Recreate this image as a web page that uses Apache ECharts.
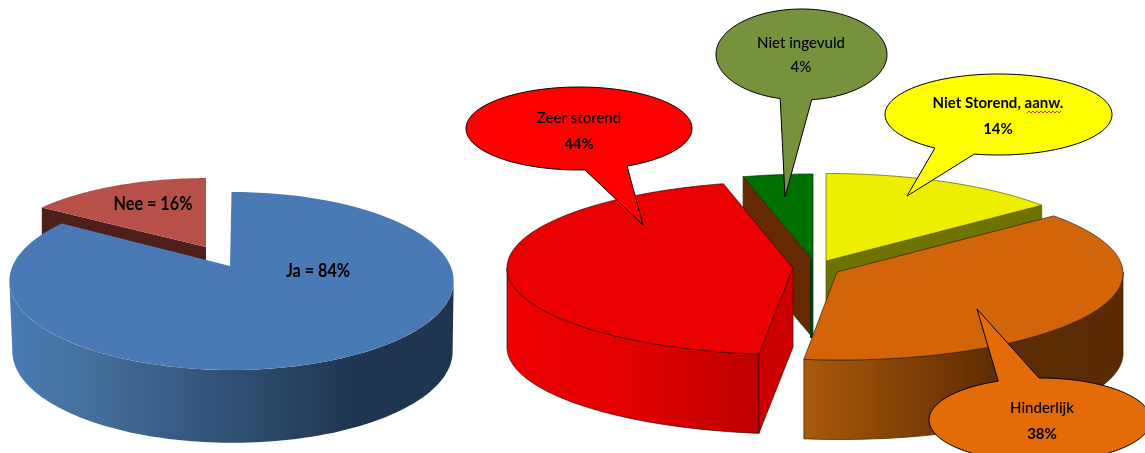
<!DOCTYPE html>
<html><head><meta charset="utf-8">
<style>html,body{margin:0;padding:0;background:#fff}#c{width:1145px;height:453px}</style>
<script src="https://cdn.jsdelivr.net/npm/echarts@6/dist/echarts.min.js"></script>
</head><body><div id="c"></div>
<script>
// ---- data ----
var answerCategories = ['Ja', 'Nee'];
var answerValues = [84, 16];
var answerLabels = ['Ja = 84%', 'Nee = 16%'];
var ratingCategories = ['Niet Storend, aanw.', 'Hinderlijk', 'Zeer storend', 'Niet ingevuld'];
var ratingValues = [14, 38, 44, 4];
var ratingLabels = ['14%', '38%', '44%', '4%'];

// ---- layout and style ----
function grad(stops){
  return new echarts.graphic.LinearGradient(0,0,1,0,stops.map(function(s){return {offset:s[0],color:s[1]};}));
}
var leftStyle = [
  {pie:0,idx:1,order:1,ax:206,ay:247,a:212,b:80.5,k:0.168,depth:60,top:'#b8504a',cut:'#4e1f1b',cutAt:'start',stroke:null,wall:'#4e1f1b'},
  {pie:0,idx:0,order:2,ax:231.5,tip:230,ay:266,a:219,b:86.5,k:0.168,depth:70,top:'#4a7ab5',stroke:null,
    bottom:{ax:232.5,ay:336,a:217,b:88.9},
    wall:[[0,'#4a7ab5'],[0.15,'#46729f'],[0.78,'#1f3550'],[1,'#1f3550']]}
];
var rightStyle = [
  {pie:1,idx:3,order:3,ax:813,ay:260,a:281,b:86,k:0,depth:78,top:'#007000',cut:'#652a02',cutAt:'start',stroke:'#0b2a08',wall:'#652a02',sliver:'#0b3a0b'},
  {pie:1,idx:0,order:4,ax:826,ay:261,a:280,b:87.5,k:0,depth:80,top:'#eeee00',cut:'#6e7300',cutAt:'end',stroke:'#5a5a00',wall:'#6e7300'},
  {pie:1,idx:2,order:5,ax:795,tip:793,ay:268,a:288,b:87,k:0,depth:79,top:'#ea0000',cut:'#cc0000',cutAt:'start',stroke:'#3a0000',
    wall:[[0,'#ee0000'],[0.55,'#e00000'],[1,'#bc0000']]},
  {pie:1,idx:1,order:6,ax:835,tip:837,sk:-5,ay:272,a:288,b:88,k:0,depth:79.5,top:'#d2640a',stroke:'#3a1c00',
    wall:[[0,'#a95a0c'],[0.45,'#723604'],[0.62,'#5c2c02'],[1,'#5a2a02']]}
];
var allStyle = leftStyle.concat(rightStyle);
var pieValues = [answerValues, ratingValues];

var callouts = [
  {idx:2,cx:579,cy:128.5,rx:113,ry:41.5,fill:'#ff0000',tail:[[585,170],[643,225],[627,166]],tx:579,y1:118,y2:144,weight:500,w2:700},
  {idx:3,cx:801.5,cy:54.5,rx:85.5,ry:45.5,fill:'#76923c',tail:[[780,99],[785,197],[812,101]],tx:801,y1:43,y2:67,weight:500,w2:500},
  {idx:0,cx:998.5,cy:114.5,rx:113.5,ry:40.5,fill:'#ffff00',tail:[[935,148],[907,196],[975,153]],tx:998,y1:103,y2:129,weight:700,w2:700,wavy:[1027,1062,112]},
  {idx:1,cx:1040,cy:420,rx:111,ry:42,fill:'#e36c09',tail:[[997,380],[977,309],[1039,377]],tx:1042,y1:408,y2:434,weight:500,w2:700}
];

function project(s, ring, angle){
  var X=Math.sin(angle), Y=Math.cos(angle), w=1+s.k*Y;
  return [ring.ax+ring.a*X/w+(s.sk||0)*Y, ring.ay-ring.b*Y/w];
}
function arc(s, ring, from, to){
  var pts=[], n=90;
  for(var i=0;i<=n;i++){ pts.push(project(s,ring,from+(to-from)*i/n)); }
  return pts;
}
function rings(s){
  var t={ax:s.ax,ay:s.ay,a:s.a,b:s.b};
  var d=s.bottom?{ax:s.bottom.ax,ay:s.bottom.ay,a:s.bottom.a,b:s.bottom.b}:{ax:s.ax,ay:s.ay+s.depth,a:s.a,b:s.b};
  return [t,d];
}
function angles(s){
  var vals=pieValues[s.pie], sum=0, total=0, i;
  for(i=0;i<vals.length;i++){ total+=vals[i]; }
  for(i=0;i<s.idx;i++){ sum+=vals[i]; }
  return [sum/total*2*Math.PI,(sum+vals[s.idx])/total*2*Math.PI];
}
function poly(pts,fill,stroke,z2,lw){
  return {type:'polygon',shape:{points:pts},z2:z2,silent:true,
    style:{fill:fill,stroke:stroke||null,lineWidth:stroke?(lw||0.7):0}};
}
function renderSlice(params){
  var s=allStyle[params.dataIndex], an=angles(s), r=rings(s), t=r[0], d=r[1], ch=[], z=s.order*10;
  var tipX=s.tip===undefined?t.ax:s.tip, tipXb=s.tip===undefined?d.ax:s.tip;
  // the wall shows only on the near side of the rim
  var vis=Math.acos(-s.k), w0=Math.max(an[0],vis), w1=Math.min(an[1],2*Math.PI-vis);
  if(w1>w0){
    var wt=arc(s,t,w0,w1), wb=arc(s,d,w0,w1);
    var wallFill=typeof s.wall==='string'?s.wall:grad(s.wall);
    ch.push(poly(wt.concat(wb.slice().reverse()),wallFill,s.stroke,z));
  }
  if(s.cut){
    var a=s.cutAt==='start'?an[0]:an[1];
    ch.push(poly([[tipX,t.ay],project(s,t,a),project(s,d,a),[tipXb,d.ay]],s.cut,s.stroke,z+1));
  }
  if(s.sliver){
    ch.push(poly([[t.ax,t.ay],[d.ax,d.ay],[d.ax-3,d.ay],[t.ax-3,t.ay]],s.sliver,null,z+2));
  }
  ch.push(poly([[tipX,t.ay]].concat(arc(s,t,an[0],an[1])),s.top,s.stroke,z+3));
  return {type:'group',children:ch};
}
var sliceText=[
  {x:318,y:271,text:answerLabels[0]},{x:153,y:204,text:answerLabels[1]}
];
function renderLeftText(params){
  var p=sliceText[params.dataIndex];
  return {type:'text',z2:200,silent:true,x:p.x,y:p.y,scaleX:0.9,style:{x:0,y:0,text:p.text,fill:'#000',
    font:'700 18px Lato',align:'center',verticalAlign:'middle'}};
}
function renderCallout(params){
  var c=callouts[params.dataIndex], z=300+params.dataIndex*10, ch=[], body=[], n=120;
  // the ellipse runs the long way round, from one foot of the tail to the other
  function ang(p){return Math.atan2((p[1]-c.cy)/c.ry,(p[0]-c.cx)/c.rx);}
  var from=ang(c.tail[0]), to=ang(c.tail[2]), gap=((from-to)%(2*Math.PI)+2*Math.PI)%(2*Math.PI);
  var dir=gap<Math.PI?1:-1, sw=gap<Math.PI?2*Math.PI-gap:gap;
  for(var i=0;i<=n;i++){
    var th=from+dir*sw*i/n;
    body.push([c.cx+c.rx*Math.cos(th),c.cy+c.ry*Math.sin(th)]);
  }
  body.push(c.tail[1]);
  ch.push(poly(body,c.fill,'#000',z,1));
  var name=ratingCategories[c.idx], pct=ratingLabels[c.idx];
  ch.push({type:'text',z2:z+1,silent:true,style:{x:c.tx,y:c.y1,text:name,fill:'#000',font:c.weight+' 15px Lato',align:'center',verticalAlign:'middle'}});
  ch.push({type:'text',z2:z+1,silent:true,style:{x:c.tx,y:c.y2,text:pct,fill:'#000',font:c.w2+' 15px Lato',align:'center',verticalAlign:'middle'}});
  if(c.wavy){
    var w=[], x=c.wavy[0], up=0;
    while(x<=c.wavy[1]){ w.push([x,c.wavy[2]+(up?-1:1)]); x+=2; up=1-up; }
    ch.push({type:'polyline',z2:z+2,silent:true,shape:{points:w},style:{stroke:'#e00000',lineWidth:0.8,fill:null}});
  }
  return {type:'group',children:ch};
}
var chart=echarts.init(document.getElementById('c'),null,{renderer:'canvas'});
chart.setOption({
  animation:false,
  backgroundColor:'#ffffff',
  series:[
    {type:'custom',coordinateSystem:'none',renderItem:renderSlice,z:2,silent:true,
      data:allStyle.map(function(s){return pieValues[s.pie][s.idx];})},
    {type:'custom',coordinateSystem:'none',renderItem:renderLeftText,z:3,silent:true,
      data:answerValues.slice()},
    {type:'custom',coordinateSystem:'none',renderItem:renderCallout,z:4,silent:true,
      data:callouts.map(function(c){return ratingValues[c.idx];})}
  ]
});
</script></body></html>
